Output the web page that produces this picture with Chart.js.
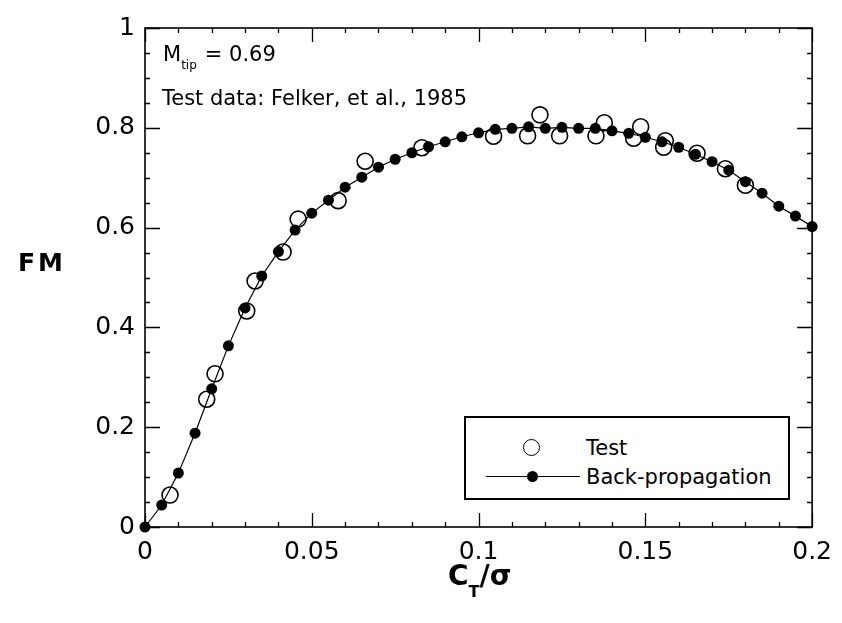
<!DOCTYPE html>
<html>
<head>
<meta charset="utf-8">
<title>Figure of merit vs thrust coefficient</title>
<script src="https://cdn.jsdelivr.net/npm/chart.js@4.4.1/dist/chart.umd.min.js"></script>
<style>
  html, body { margin: 0; padding: 0; background: #fff; }
  #wrap { position: relative; width: 842px; height: 623px; font-family: "DejaVu Sans", sans-serif; color: #000; }
  #wrap canvas { position: absolute; left: 0; top: 0; }
  .txt { position: absolute; white-space: nowrap; line-height: 1; }
  .note { font-size: 21px; }
  .note sub { font-size: 12px; vertical-align: -8px; margin-right: 8px; }
  .axis-title { font-weight: bold; }
  #y-title { left: 18px; top: 250px; font-size: 25px; letter-spacing: 3px; }
  #x-title { left: 448px; top: 562px; font-size: 28px; }
  #x-title sub { font-size: 16px; vertical-align: -12px; }
  #legend { position: absolute; left: 464px; top: 416px; width: 322px; height: 80px; border: 2px solid #000; background: #fff; }
  #legend .row { position: absolute; left: 0; height: 24px; width: 100%; }
  #legend .sym { position: absolute; left: 20px; top: 0; width: 94px; height: 24px; }
  #legend .label { position: absolute; left: 120px; top: 2px; font-size: 21px; line-height: 1; }
  .ring { position: absolute; left: 37px; top: 3px; width: 15px; height: 15px; border: 1.6px solid #000; border-radius: 50%; background: #fff; }
  .rule { position: absolute; left: 0; top: 11px; width: 94px; height: 1.2px; background: #000; }
  .dot { position: absolute; left: 41px; top: 6px; width: 11px; height: 11px; border-radius: 50%; background: #000; }
</style>
</head>
<body>
<div id="wrap">
  <canvas id="fm-canvas" width="842" height="623"></canvas>
  <div class="txt note" style="left:163px; top:44px;">M<sub>tip</sub>= 0.69</div>
  <div class="txt note" style="left:162px; top:88px;">Test data: Felker, et al., 1985</div>
  <div class="txt axis-title" id="y-title">FM</div>
  <div class="txt axis-title" id="x-title">C<sub>T</sub>/σ</div>
  <div id="legend"></div>
</div>
<script>
// Hover figure of merit vs blade loading, test points and network fit.

const seriesNames = ['Test', 'Back-propagation'];

// back-propagation network output, every 0.005 in CT/sigma
const backpropCT = [
  0, 0.005, 0.01, 0.015, 0.02, 0.025, 0.03, 0.035, 0.04, 0.045,
  0.05, 0.055, 0.06, 0.065, 0.07, 0.075, 0.08, 0.085, 0.09, 0.095,
  0.1, 0.105, 0.11, 0.115, 0.12, 0.125, 0.13, 0.135, 0.14, 0.145,
  0.15, 0.155, 0.16, 0.165, 0.17, 0.175, 0.18, 0.185, 0.19, 0.195, 0.2
];
const backpropFM = [
  0, 0.044, 0.108, 0.188, 0.277, 0.363, 0.439, 0.503, 0.552, 0.595,
  0.629, 0.655, 0.681, 0.701, 0.721, 0.737, 0.750, 0.762, 0.772, 0.782,
  0.790, 0.797, 0.799, 0.802, 0.799, 0.801, 0.799, 0.799, 0.794, 0.789,
  0.781, 0.772, 0.761, 0.747, 0.732, 0.715, 0.692, 0.669, 0.643, 0.623, 0.602
];

// Felker et al. (1985) measurements
const testCT = [
  0.0075, 0.0185, 0.021, 0.0305, 0.033, 0.0414, 0.0459, 0.0579, 0.066, 0.083,
  0.1045, 0.1147, 0.1184, 0.1243, 0.1352, 0.1377, 0.1465, 0.1486, 0.156, 0.1555,
  0.1655, 0.174, 0.180
];
const testFM = [
  0.064, 0.256, 0.307, 0.433, 0.493, 0.551, 0.617, 0.654, 0.733, 0.760,
  0.783, 0.784, 0.826, 0.784, 0.784, 0.810, 0.779, 0.802, 0.774, 0.761,
  0.749, 0.718, 0.685
];

const xTickValues = [0, 0.05, 0.1, 0.15, 0.2];
const xTickLabels = ['0', '0.05', '0.1', '0.15', '0.2'];
const yTickValues = [0, 0.2, 0.4, 0.6, 0.8, 1];
const yTickLabels = ['0', '0.2', '0.4', '0.6', '0.8', '1'];
const xMinorStep = 0.01;
const yMinorStep = 0.05;

Chart.defaults.font.family = '"DejaVu Sans", sans-serif';
Chart.defaults.color = '#000';

// box round the plot with inward ticks on all four sides
const frameTicks = {
  id: 'frameTicks',
  beforeDatasetsDraw(chart) {
    const { ctx, chartArea: a, scales: { x, y } } = chart;
    ctx.save();
    ctx.strokeStyle = '#000';
    ctx.lineWidth = 1.6;
    ctx.strokeRect(a.left, a.top, a.right - a.left, a.bottom - a.top);
    ctx.lineWidth = 1.3;
    ctx.beginPath();
    const xn = Math.round((x.max - x.min) / xMinorStep);
    for (let i = 0; i <= xn; i++) {
      const v = x.min + i * xMinorStep;
      const px = Math.round(x.getPixelForValue(v)) + 0.5;
      const len = xTickValues.some((t) => Math.abs(t - v) < 1e-9) ? 14 : 5;
      ctx.moveTo(px, a.bottom); ctx.lineTo(px, a.bottom - len);
      ctx.moveTo(px, a.top); ctx.lineTo(px, a.top + len);
    }
    const yn = Math.round((y.max - y.min) / yMinorStep);
    for (let i = 0; i <= yn; i++) {
      const v = y.min + i * yMinorStep;
      const py = Math.round(y.getPixelForValue(v)) + 0.5;
      const len = yTickValues.some((t) => Math.abs(t - v) < 1e-9) ? 15 : 5;
      ctx.moveTo(a.left, py); ctx.lineTo(a.left + len, py);
      ctx.moveTo(a.right, py); ctx.lineTo(a.right - len, py);
    }
    ctx.stroke();
    ctx.restore();
  },
};

const chart = new Chart(document.getElementById('fm-canvas'), {
  type: 'scatter',
  data: {
    datasets: [
      {
        label: seriesNames[1],
        data: backpropCT.map((ct, i) => ({ x: ct, y: backpropFM[i] })),
        showLine: true,
        tension: 0,
        borderColor: '#000',
        borderWidth: 1.2,
        pointRadius: 5.5,
        pointBorderWidth: 0,
        pointBackgroundColor: '#000',
        clip: false,
        order: 0,
      },
      {
        label: seriesNames[0],
        data: testCT.map((ct, i) => ({ x: ct, y: testFM[i] })),
        showLine: false,
        pointRadius: 8,
        pointBorderWidth: 1.6,
        pointBorderColor: '#000',
        pointBackgroundColor: '#fff',
        clip: false,
        order: 1,
      },
    ],
  },
  options: {
    responsive: false,
    animation: false,
    devicePixelRatio: 1,
    layout: { padding: { left: 0, right: 29, top: 28, bottom: 0 } },
    plugins: { legend: { display: false }, tooltip: { enabled: false } },
    scales: {
      x: {
        type: 'linear',
        min: 0,
        max: 0.2,
        afterBuildTicks: (s) => { s.ticks = xTickValues.map((v) => ({ value: v })); },
        afterFit: (s) => { s.height = 96; },
        grid: { display: false, drawTicks: false },
        border: { display: false },
        ticks: {
          autoSkip: false,
          maxRotation: 0,
          padding: 10,
          font: { size: 25 },
          callback: (v) => xTickLabels[xTickValues.indexOf(v)],
        },
      },
      y: {
        type: 'linear',
        min: 0,
        max: 1,
        afterBuildTicks: (s) => { s.ticks = yTickValues.map((v) => ({ value: v })); },
        afterFit: (s) => { s.width = 145; },
        grid: { display: false, drawTicks: false },
        border: { display: false },
        ticks: {
          autoSkip: false,
          padding: 10,
          font: { size: 25 },
          callback: (v) => yTickLabels[yTickValues.indexOf(v)],
        },
      },
    },
  },
  plugins: [frameTicks],
});

// legend box in the lower right of the plot
const legend = document.getElementById('legend');
const rows = [
  { name: chart.data.datasets[1].label, sym: '<div class="ring"></div>', top: 18 },
  { name: chart.data.datasets[0].label, sym: '<div class="rule"></div><div class="dot"></div>', top: 47 },
];
legend.innerHTML = rows.map((r) =>
  `<div class="row" style="top:${r.top}px"><div class="sym">${r.sym}</div><div class="label">${r.name}</div></div>`
).join('');
</script>
</body>
</html>
